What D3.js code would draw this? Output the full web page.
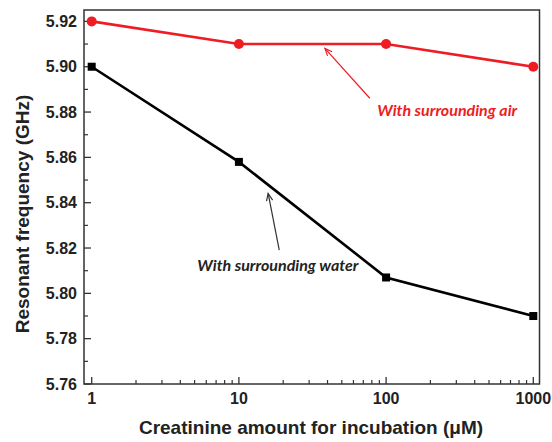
<!DOCTYPE html>
<html>
<head>
<meta charset="utf-8">
<script src="https://cdn.jsdelivr.net/npm/d3@7"></script>
<style>
  html, body { margin: 0; padding: 0; background: #fff; }
  svg { display: block; }
</style>
</head>
<body>
<svg id="chart" width="552" height="442"></svg>
<script>
// ---- data ----
const concentrations = [1, 10, 100, 1000];
const airValues = [5.92, 5.91, 5.91, 5.90];
const waterValues = [5.900, 5.858, 5.807, 5.790];
const yTickValues = [5.76, 5.78, 5.80, 5.82, 5.84, 5.86, 5.88, 5.90, 5.92];
const xTickValues = [1, 10, 100, 1000];
const xTickLabels = ["1", "10", "100", "1000"];
const xTitle = "Creatinine amount for incubation (\u03BCM)";
const yTitle = "Resonant frequency (GHz)";
const airLabel = "With surrounding air";
const waterLabel = "With surrounding water";
// annotation anchors in data units: [x, y]
const airArrowFrom = [77.5, 5.8861];
const airArrowTo = [38.4, 5.9081];
const airTextAt = [260, 5.8783];
const waterArrowFrom = [18.8, 5.8191];
const waterArrowTo = [15.8, 5.8441];
const waterTextAt = [18.4, 5.8099];

const RED = "#ee1d23";
const svg = d3.select("#chart");

const frame = {left: 84, right: 539.5, top: 10, bottom: 384};
const x = d3.scaleLog().domain([1, 1000]).range([91.7, 533.3]);
const y = d3.scaleLinear().domain([5.76, 5.92]).range([384, 21.4]);

// frame
svg.append("rect")
  .attr("x", frame.left).attr("y", frame.top)
  .attr("width", frame.right - frame.left).attr("height", frame.bottom - frame.top)
  .attr("fill", "none").attr("stroke", "#333").attr("stroke-width", 1.5);

// y ticks
const yMinor = d3.range(5.77, 5.92, 0.02);
const gy = svg.append("g");
gy.selectAll("line.maj").data(yTickValues).join("line")
  .attr("x1", frame.left).attr("x2", frame.left + 7)
  .attr("y1", d => y(d)).attr("y2", d => y(d))
  .attr("stroke", "#333").attr("stroke-width", 1.3);
gy.selectAll("line.min").data(yMinor).join("line")
  .attr("x1", frame.left).attr("x2", frame.left + 4)
  .attr("y1", d => y(d)).attr("y2", d => y(d))
  .attr("stroke", "#333").attr("stroke-width", 1.2);
gy.selectAll("text").data(yTickValues).join("text")
  .attr("x", 77).attr("y", d => y(d)).attr("dy", "0.36em")
  .attr("text-anchor", "end")
  .attr("font-family", "Liberation Sans, Arial, sans-serif")
  .attr("font-weight", "bold").attr("font-size", 16).attr("fill", "#222")
  .text(d => d3.format(".2f")(d));

// x ticks
const xMinor = [];
[1, 10, 100].forEach(b => { for (let k = 2; k <= 9; k++) xMinor.push(b * k); });
const gx = svg.append("g");
gx.selectAll("line.maj").data(xTickValues).join("line")
  .attr("x1", d => x(d)).attr("x2", d => x(d))
  .attr("y1", frame.bottom).attr("y2", frame.bottom - 7)
  .attr("stroke", "#333").attr("stroke-width", 1.3);
gx.selectAll("line.min").data(xMinor).join("line")
  .attr("x1", d => x(d)).attr("x2", d => x(d))
  .attr("y1", frame.bottom).attr("y2", frame.bottom - 4)
  .attr("stroke", "#333").attr("stroke-width", 1.2);
gx.selectAll("text").data(xTickValues).join("text")
  .attr("x", d => x(d)).attr("y", 404)
  .attr("text-anchor", "middle")
  .attr("font-family", "Liberation Sans, Arial, sans-serif")
  .attr("font-weight", "bold").attr("font-size", 16).attr("fill", "#222")
  .text((d, i) => xTickLabels[i]);

// axis titles
svg.append("text")
  .attr("x", 311).attr("y", 434).attr("text-anchor", "middle")
  .attr("font-family", "Liberation Sans, Arial, sans-serif")
  .attr("font-weight", "bold").attr("font-size", 19).attr("fill", "#222")
  .text(xTitle);
svg.append("text")
  .attr("transform", "translate(29,214) rotate(-90)")
  .attr("text-anchor", "middle")
  .attr("font-family", "Liberation Sans, Arial, sans-serif")
  .attr("font-weight", "bold").attr("font-size", 19).attr("fill", "#222")
  .text(yTitle);

// series
const line = d3.line().x((d, i) => x(concentrations[i])).y(d => y(d));
svg.append("path").datum(airValues).attr("d", line)
  .attr("fill", "none").attr("stroke", RED).attr("stroke-width", 2.6);
svg.append("path").datum(waterValues).attr("d", line)
  .attr("fill", "none").attr("stroke", "#000").attr("stroke-width", 2.6);
svg.append("g").selectAll("circle").data(airValues).join("circle")
  .attr("cx", (d, i) => x(concentrations[i])).attr("cy", d => y(d)).attr("r", 5)
  .attr("fill", RED);
svg.append("g").selectAll("rect").data(waterValues).join("rect")
  .attr("x", (d, i) => x(concentrations[i]) - 4).attr("y", d => y(d) - 4)
  .attr("width", 8).attr("height", 8).attr("fill", "#000");

// annotations
function arrow(from, to, color) {
  const x1 = x(from[0]), y1 = y(from[1]), x2 = x(to[0]), y2 = y(to[1]);
  const ang = Math.atan2(y2 - y1, x2 - x1);
  const L = 8, a = 0.4;
  const g = svg.append("g").attr("stroke", color).attr("stroke-width", 1.2).attr("fill", "none");
  g.append("line").attr("x1", x1).attr("y1", y1).attr("x2", x2).attr("y2", y2);
  g.append("path").attr("d",
    `M${x2 - L * Math.cos(ang - a)},${y2 - L * Math.sin(ang - a)}L${x2},${y2}L${x2 - L * Math.cos(ang + a)},${y2 - L * Math.sin(ang + a)}`);
}
arrow(airArrowFrom, airArrowTo, RED);
arrow(waterArrowFrom, waterArrowTo, "#333");

svg.append("text")
  .attr("x", x(airTextAt[0])).attr("y", y(airTextAt[1])).attr("text-anchor", "middle")
  .attr("font-family", "Lato, sans-serif").attr("font-style", "italic")
  .attr("font-weight", "bold").attr("font-size", 16).attr("fill", RED)
  .text(airLabel);
svg.append("text")
  .attr("x", x(waterTextAt[0])).attr("y", y(waterTextAt[1])).attr("text-anchor", "middle")
  .attr("font-family", "Lato, sans-serif").attr("font-style", "italic")
  .attr("font-weight", "bold").attr("font-size", 16).attr("fill", "#222")
  .text(waterLabel);
</script>
</body>
</html>
